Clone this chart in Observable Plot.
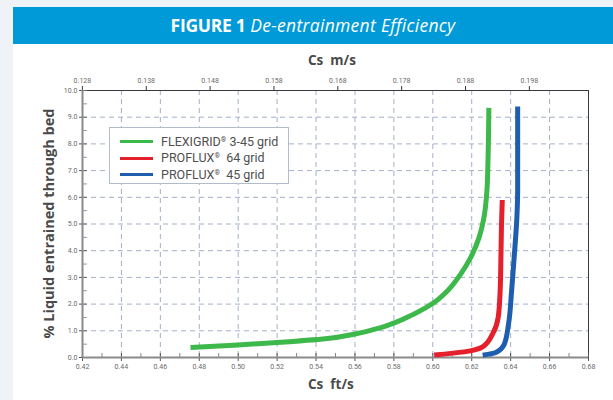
<!DOCTYPE html>
<html>
<head>
<meta charset="utf-8">
<script src="https://cdn.jsdelivr.net/npm/d3@7"></script>
<script src="https://cdn.jsdelivr.net/npm/@observablehq/plot@0.6"></script>
<style>
  html, body { margin: 0; padding: 0; }
  body { width: 613px; height: 400px; background: #eff3f7; position: relative; overflow: hidden; font-family: Roboto, sans-serif; }
  #panel { position: absolute; left: 13px; top: 7px; width: 600px; height: 393px; background: #fff; }
  #band { position: absolute; left: 0; top: 0; width: 600px; height: 37px; background: #009ad9; color: #fff;
          font-family: "Open Sans", sans-serif; font-size: 17.5px; line-height: 37px; text-align: center; letter-spacing: 0.3px; }
  #band b { font-weight: 700; letter-spacing: -0.3px; }
  #band i { font-weight: 400; }
  #chart { position: absolute; left: 0; top: 37px; }
  .atitle { position: absolute; font-family: "Open Sans", sans-serif; font-weight: 700; font-size: 13.5px; color: #4a4a4a; white-space: pre; }
  #legend { position: absolute; left: 96px; top: 120px; width: 178px; height: 55px; border: 1px solid #b3bccb; background: #fff;
            font-family: Roboto, sans-serif; font-size: 12.5px; color: #4f4f4f; }
  .li { position: absolute; left: 10px; height: 16px; line-height: 16px; white-space: pre; }
  .li span.sw { display: inline-block; width: 33px; height: 3px; vertical-align: middle; margin-right: 8px; position: relative; top: -1px; }
  sup { font-size: 7px; vertical-align: 4px; }
</style>
</head>
<body>
<div id="panel">
  <div id="band"><b>FIGURE 1</b> <i>De-entrainment Efficiency</i></div>
  <div id="chart"></div>
  <div class="atitle" style="left:295px; top:44px;">Cs  m/s</div>
  <div class="atitle" style="left:295px; top:368px;">Cs  ft/s</div>
  <div class="atitle" style="left:-85px; top:207px; width:240px; font-size:14.5px; text-align:center; transform: rotate(-90deg);">% Liquid entrained through bed</div>
  <div id="legend"></div>
</div>
<script>
// ---- tick values ----
const ftTicks = [0.42, 0.44, 0.46, 0.48, 0.50, 0.52, 0.54, 0.56, 0.58, 0.60, 0.62, 0.64, 0.66, 0.68];
const ftMinor = [0.43, 0.45, 0.47, 0.49, 0.51, 0.53, 0.55, 0.57, 0.59, 0.61, 0.63, 0.65, 0.67];
const msTicks = [0.128, 0.138, 0.148, 0.158, 0.168, 0.178, 0.188, 0.198];
const yTicks = [0, 1, 2, 3, 4, 5, 6, 7, 8, 9, 10];
const yMinor = [0.5, 1.5, 2.5, 3.5, 4.5, 5.5, 6.5, 7.5, 8.5, 9.5];
const FT_TO_M = 0.3048;

// ---- series ----
const seriesNames = ["FLEXIGRID® 3-45 grid", "PROFLUX®  64 grid", "PROFLUX®  45 grid"];
const seriesColors = ["#3db84a", "#e3202c", "#1f5eae"];

const flexX = [0.4755, 0.500, 0.520, 0.5458, 0.560, 0.5733, 0.5904, 0.6007, 0.6076, 0.6144, 0.6195, 0.6238, 0.6260, 0.6278, 0.6284, 0.6288];
const flexY = [0.37,   0.47,  0.56,  0.71,   0.88,  1.12,   1.63,   2.06,   2.50,   3.13,   3.75,   4.50,   5.13,   6.25,   7.50,   9.35];

const p64X = [0.6007, 0.6161, 0.6256, 0.6307, 0.6336, 0.6346, 0.6350, 0.6353, 0.6357];
const p64Y = [0.09,   0.21,   0.40,   0.88,   1.50,   2.50,   3.75,   5.00,   5.90];

const p45X = [0.6256, 0.6324, 0.6367, 0.6389, 0.6405, 0.6418, 0.6432, 0.6436, 0.6436, 0.6436];
const p45Y = [0.09,   0.19,   0.50,   1.25,   2.50,   3.75,   5.25,   6.25,   7.50,   9.40];

const rows = [];
[[flexX, flexY], [p64X, p64Y], [p45X, p45Y]].forEach(([xs, ys], i) => {
  xs.forEach((x, j) => rows.push({series: seriesNames[i], x, y: ys[j]}));
});

const gridStyle = {stroke: "#a3b0c9", strokeOpacity: 1, strokeDasharray: "5,4", strokeWidth: 1};
const blank = () => "";

const chart = Plot.plot({
  width: 600,
  height: 356,
  marginLeft: 69,
  marginRight: 25,
  marginTop: 46,
  marginBottom: 43,
  style: {fontFamily: "Roboto, sans-serif", fontSize: "7px", color: "#6a6a6a", background: "transparent", overflow: "visible"},
  x: {domain: [0.42, 0.68], label: null},
  y: {domain: [0, 10], label: null},
  color: {domain: seriesNames, range: seriesColors},
  marks: [
    Plot.gridX(ftTicks.slice(1, -1), gridStyle),
    Plot.gridY(yTicks.slice(1, -1), gridStyle),
    Plot.ruleY([10], {stroke: "#3a3a3a", strokeWidth: 1}),
    Plot.ruleX([0.68], {stroke: "#3a3a3a", strokeWidth: 1}),
    Plot.axisX(msTicks.map(m => m / FT_TO_M), {anchor: "top", tickSize: 5, tickPadding: 3, stroke: "#3a3a3a",
      tickFormat: d => (d * FT_TO_M).toFixed(3), label: null}),
    Plot.axisX(ftTicks, {anchor: "bottom", tickSize: 4, tickPadding: 3, stroke: "#555", tickFormat: d => d.toFixed(2), label: null}),
    Plot.axisX(ftTicks, {anchor: "bottom", tickSize: -4, tickPadding: 0, stroke: "#555", tickFormat: blank, label: null}),
    Plot.axisX(ftMinor, {anchor: "bottom", tickSize: -4, tickPadding: 0, stroke: "#888", tickFormat: blank, label: null}),
    Plot.axisY(yTicks, {anchor: "left", tickSize: 3, tickPadding: 2, stroke: "#555", tickFormat: d => d.toFixed(1), label: null}),
    Plot.axisY(yTicks, {anchor: "left", tickSize: -5, tickPadding: 0, stroke: "#666", tickFormat: blank, label: null}),
    Plot.axisY(yMinor, {anchor: "left", tickSize: -5, tickPadding: 0, stroke: "#8a9bbb", tickFormat: blank, label: null}),
    Plot.ruleX([0.42], {stroke: "#8a8a8a", strokeWidth: 2}),
    Plot.ruleY([0], {stroke: "#8a8a8a", strokeWidth: 2}),
    Plot.line(rows, {x: "x", y: "y", z: "series", stroke: "series", strokeWidth: 5, curve: "monotone-y", strokeLinecap: "butt"})
  ]
});
document.getElementById("chart").appendChild(chart);

// ---- legend ----
const legend = document.getElementById("legend");
seriesNames.forEach((name, i) => {
  const div = document.createElement("div");
  div.className = "li";
  div.style.top = (4 + i * 16.3) + "px";
  const sw = document.createElement("span");
  sw.className = "sw";
  sw.style.background = seriesColors[i];
  div.appendChild(sw);
  const parts = name.split("®");
  div.appendChild(document.createTextNode(parts[0]));
  const sup = document.createElement("sup");
  sup.textContent = "®";
  div.appendChild(sup);
  div.appendChild(document.createTextNode(parts[1]));
  legend.appendChild(div);
});
</script>
</body>
</html>
